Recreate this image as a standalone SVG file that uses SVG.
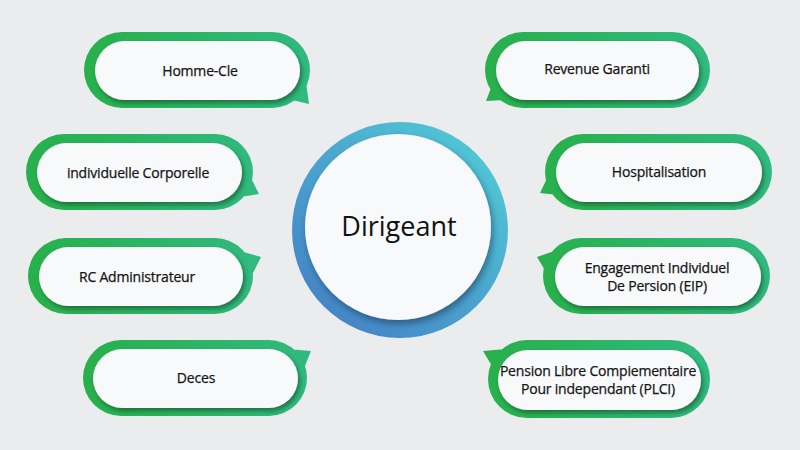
<svg xmlns="http://www.w3.org/2000/svg" width="800" height="450" viewBox="0 0 800 450">
<defs>
<linearGradient id="gGreen" x1="0" y1="0" x2="1" y2="0">
<stop offset="0" stop-color="#27b04a"/>
<stop offset="1" stop-color="#30ba80"/>
</linearGradient>
<linearGradient id="gBlue" x1="0.85" y1="0.1" x2="0.15" y2="0.9">
<stop offset="0" stop-color="#50c6d5"/>
<stop offset="1" stop-color="#4584c6"/>
</linearGradient>
<filter id="sh" x="-20%" y="-30%" width="140%" height="170%">
<feDropShadow dx="2" dy="3" stdDeviation="2.2" flood-color="#0d3b22" flood-opacity="0.55"/>
</filter>
<filter id="shc" x="-20%" y="-20%" width="140%" height="140%">
<feDropShadow dx="2" dy="4" stdDeviation="3" flood-color="#0c2a45" flood-opacity="0.5"/>
</filter>
</defs>
<style>
.ring{fill:url(#gGreen)}
.inner{fill:#f8f9fb;filter:url(#sh)}
.t{font-family:"Open Sans","Noto Sans",sans-serif;font-size:14px;fill:#141414;stroke:#141414;stroke-width:0.25px;text-anchor:middle;letter-spacing:-0.2px}
.big{font-family:"Open Sans","Noto Sans",sans-serif;font-size:27px;fill:#111;text-anchor:middle}
</style>
<rect width="800" height="450" fill="#ebecee"/>

<g id="node-homme-cle">
<path class="ring" d="M122,32H272A38,38 0 0 1 272,108H122A38,38 0 0 1 122,32Z M292,100L306,82L309,104Z"/>
<rect class="inner" x="95" y="41" width="205" height="59" rx="29.5"/>
<text class="t" x="200" y="76">Homme-Cle</text>
</g>

<g id="node-individuelle">
<path class="ring" d="M64,134H215A38,38 0 0 1 215,210H64A38,38 0 0 1 64,134Z M240,197L248,172L259,194Z"/>
<rect class="inner" x="37" y="143" width="205" height="59" rx="29.5"/>
<text class="t" x="138" y="178">individuelle Corporelle</text>
</g>

<g id="node-rc">
<path class="ring" d="M66,238H215A38,38 0 0 1 215,314H66A38,38 0 0 1 66,238Z M236,250L261,257L251,277Z"/>
<rect class="inner" x="39" y="247" width="204" height="59" rx="29.5"/>
<text class="t" x="137" y="282">RC Administrateur</text>
</g>

<g id="node-deces">
<path class="ring" d="M121,340H269A38,38 0 0 1 269,416H121A38,38 0 0 1 121,340Z M288,349L311,351L303,371Z"/>
<rect class="inner" x="93" y="349" width="205" height="59" rx="29.5"/>
<text class="t" x="196" y="383">Deces</text>
</g>

<g id="node-revenue">
<path class="ring" d="M523,32H672A38,38 0 0 1 672,108H523A38,38 0 0 1 523,32Z M494,80L504,100L486,101Z"/>
<rect class="inner" x="496" y="41" width="203" height="59" rx="29.5"/>
<text class="t" x="597" y="74">Revenue Garanti</text>
</g>

<g id="node-hospitalisation">
<path class="ring" d="M583,134H734A38,38 0 0 1 734,210H583A38,38 0 0 1 583,134Z M550,172L558,195L540,193Z"/>
<rect class="inner" x="556" y="143" width="206" height="59" rx="29.5"/>
<text class="t" x="659" y="177">Hospitalisation</text>
</g>

<g id="node-eip">
<path class="ring" d="M581,238H732A38,38 0 0 1 732,314H581A38,38 0 0 1 581,238Z M537,257L560,249L549,277Z"/>
<rect class="inner" x="555" y="247" width="206" height="59" rx="29.5"/>
<text class="t" x="657" y="273">Engagement Individuel</text>
<text class="t" x="657" y="291">De Persion (EIP)</text>
</g>

<g id="node-plci">
<path class="ring" d="M527,340H671A39,39 0 0 1 671,418H527A39,39 0 0 1 527,340Z M483,351L506,349L495,371Z"/>
<rect class="inner" x="498" y="350" width="203" height="60" rx="30"/>
<text class="t" x="598" y="376">Pension Libre Compiementaire</text>
<text class="t" x="598" y="394">Pour independant (PLCI)</text>
</g>

<g id="node-dirigeant">
<circle cx="400" cy="230" r="108" fill="url(#gBlue)"/>
<circle cx="398" cy="227" r="93" fill="#f8f9fb" filter="url(#shc)"/>
<text class="big" x="399" y="236">Dirigeant</text>
</g>
</svg>
